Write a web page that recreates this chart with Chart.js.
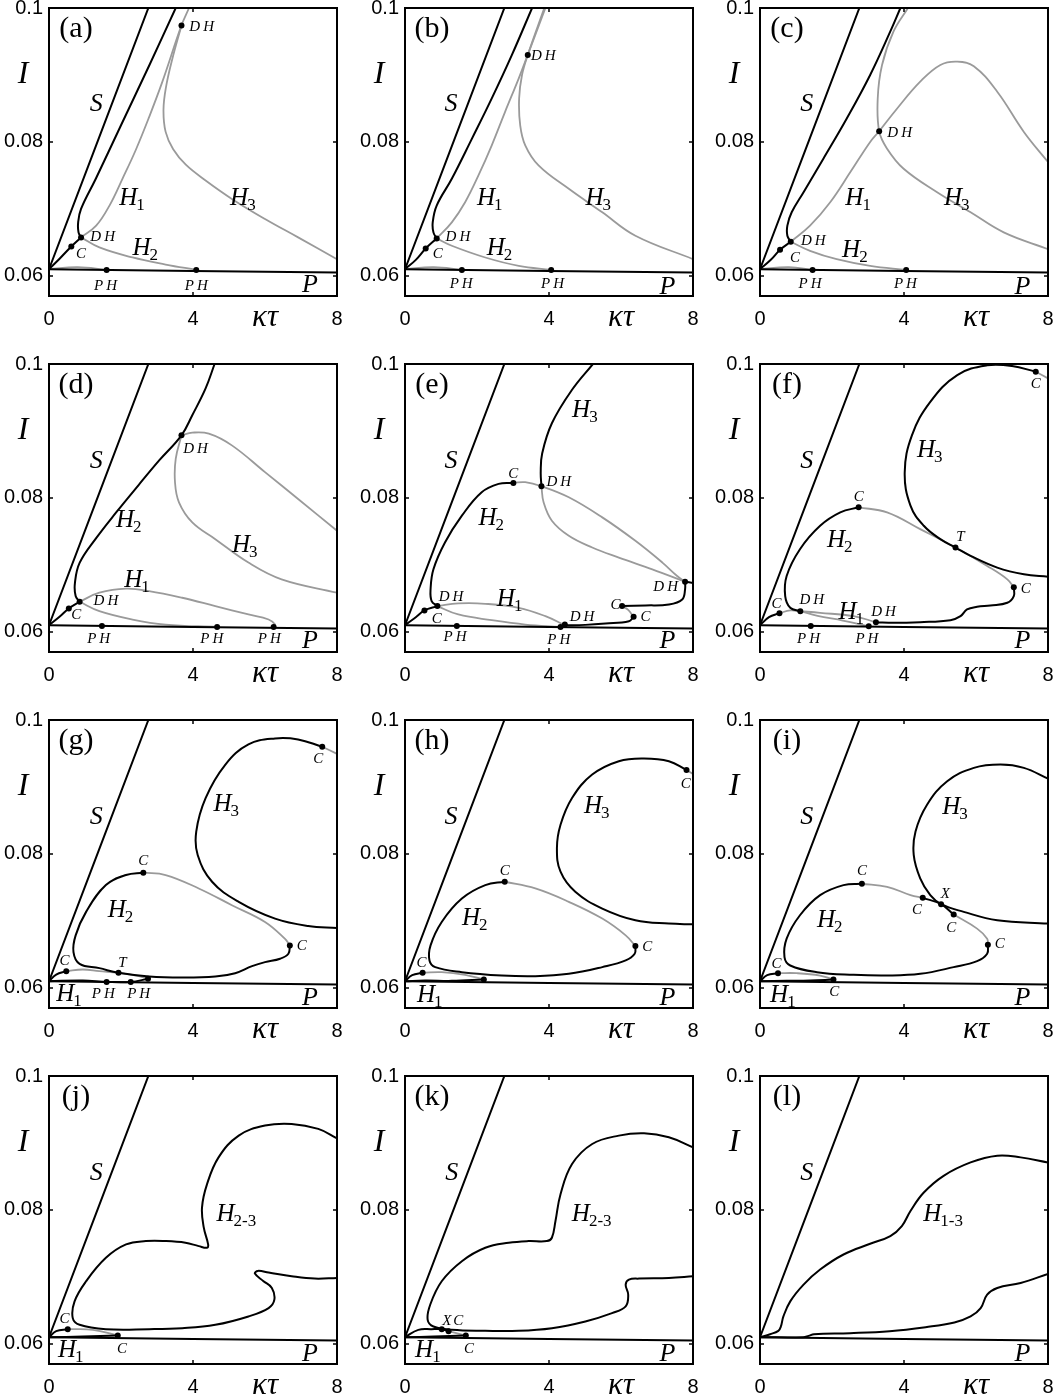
<!DOCTYPE html>
<html><head><meta charset="utf-8">
<script src="https://cdn.jsdelivr.net/npm/chart.js@4/dist/chart.umd.min.js"></script>
<style>
html,body{margin:0;padding:0;background:#fff;overflow:hidden;width:1057px;height:1396px;}
canvas{position:absolute;}
</style></head><body>
<script>
// ---------- axes ----------
const xTicks = [0, 4, 8];
const yTicks = [0.06, 0.08, 0.1];
const yTickLabels = ['0.06', '0.08', '0.1'];
const panelLetters = ['a','b','c','d','e','f','g','h','i','j','k','l'];

// ---------- shared straight branches ----------
const S_line = [[0,0.061],[2.76,0.1]];
const P_line = [[0,0.061],[8,0.0605]];

// ---------- panel (a) ----------
const aBlack1 = [[0,0.061],[0.3,0.0626],[0.62,0.0644],[0.89,0.06575]];
const aBlack2 = [[0.89,0.06575],[0.82,0.0665],[0.81,0.068],[0.89,0.0700],[1.3,0.0745],[2.0,0.0825],[2.8,0.0916],[3.52,0.1]];
const aH1 = [[0.89,0.06575],[1.31,0.0675],[1.68,0.0705],[2.04,0.0745],[2.41,0.0788],[2.78,0.0837],[3.15,0.0890],[3.68,0.0974],[3.89,0.1]];
const aH3 = [[3.68,0.0974],[3.43,0.0925],[3.25,0.0882],[3.18,0.0848],[3.24,0.0815],[3.45,0.0789],[3.8,0.0766],[4.35,0.07425],[5.08,0.0715],[6.0,0.0685],[6.92,0.06575],[8,0.0625]];
const aH2 = [[0.89,0.06575],[1.40,0.06425],[2.32,0.06275],[3.24,0.0617],[4.09,0.0609]];
const aLow = [[0,0.061],[0.8,0.0613],[1.6,0.0609]];
const aDots = [[0.62,0.0644],[0.89,0.06575],[3.68,0.0974],[1.60,0.0609],[4.09,0.0609]];
const aLabels = [['S',1.31,0.0858],['H1',2.32,0.0718],['H2',2.69,0.0643],['H3',5.40,0.0718],['P',7.25,0.0588],['DH',4.24,0.0973],['DH',1.49,0.0659],['C',0.89,0.0634],['PH',1.57,0.0586],['PH',4.09,0.0586]];

// ---------- panel (b) ----------
const bBlack1 = [[0,0.061],[0.3,0.0624],[0.575,0.0641],[0.88,0.0656]];
const bBlack2 = [[0.88,0.0656],[0.79,0.0665],[0.77,0.068],[0.88,0.0705],[1.30,0.0745],[1.86,0.0805],[2.41,0.0865],[2.97,0.093],[3.53,0.1]];
const bH1 = [[0.88,0.0656],[1.30,0.068],[1.67,0.071],[2.04,0.075],[2.41,0.0795],[2.78,0.0845],[3.16,0.0895],[3.41,0.093],[3.90,0.1]];
const bH3 = [[3.87,0.1],[3.41,0.093],[3.25,0.09],[3.17,0.0865],[3.2,0.0825],[3.34,0.0795],[3.71,0.0765],[4.55,0.073],[5.48,0.0695],[6.40,0.066],[8,0.0625]];
const bH2 = [[0.88,0.0656],[1.30,0.0645],[2.23,0.06275],[3.16,0.0615],[4.06,0.0609]];
const bLow = [[0,0.061],[0.8,0.0613],[1.58,0.0609]];
const bDots = [[0.575,0.0641],[0.88,0.0656],[3.41,0.093],[1.58,0.0609],[4.06,0.0609]];
const bLabels = [['S',1.28,0.0858],['H1',2.37,0.0718],['H2',2.64,0.0643],['H3',5.38,0.0718],['P',7.29,0.0585],['DH',3.84,0.093],['DH',1.47,0.0659],['C',0.91,0.0634],['PH',1.56,0.0589],['PH',4.10,0.0589]];

// ---------- panel (c) ----------
const cBlack1 = [[0,0.061],[0.3,0.0624],[0.557,0.0639],[0.854,0.0651]];
const cBlack2 = [[0.854,0.0651],[0.76,0.066],[0.76,0.0675],[0.88,0.0695],[1.21,0.0725],[1.76,0.0775],[2.41,0.0835],[3.06,0.09],[3.62,0.0965],[3.90,0.1]];
const cH1 = [[0.854,0.0651],[1.39,0.0675],[1.95,0.071],[2.51,0.0755],[3.06,0.08],[3.31,0.0816],[3.81,0.085],[4.45,0.089],[5.01,0.0915],[5.48,0.092],[5.94,0.0913],[6.59,0.0875],[7.33,0.0815],[8,0.077]];
const cH3 = [[4.11,0.1],[3.71,0.0965],[3.39,0.0915],[3.27,0.0865],[3.31,0.0816],[3.53,0.079],[3.99,0.076],[4.92,0.0725],[5.85,0.0695],[6.77,0.0665],[8,0.064]];
const cH2 = [[0.854,0.0651],[1.39,0.06375],[2.13,0.0625],[3.06,0.0615],[4.06,0.0609]];
const cLow = [[0,0.061],[0.8,0.0613],[1.46,0.0609]];
const cDots = [[0.557,0.0639],[0.854,0.0651],[3.31,0.0816],[1.46,0.0609],[4.06,0.0609]];
const cLabels = [['S',1.30,0.0858],['H1',2.74,0.0718],['H2',2.65,0.064],['H3',5.48,0.0718],['P',7.29,0.0585],['DH',3.88,0.0815],['DH',1.48,0.0654],['C',0.97,0.06275],['PH',1.39,0.0589],['PH',4.04,0.0589]];

// ---------- panel (d) ----------
const dBlack1 = [[0,0.061],[0.3,0.0623],[0.55,0.0635],[0.85,0.0645]];
const dBlack2 = [[0.85,0.0645],[0.74,0.06535],[0.72,0.0673],[0.85,0.0703],[1.31,0.0740],[1.86,0.0778],[2.50,0.0820],[3.06,0.0856],[3.68,0.08935],[3.98,0.09235],[4.35,0.09635],[4.60,0.1]];
const dH1 = [[0.85,0.0645],[1.40,0.06585],[2.14,0.06645],[2.78,0.0661],[3.70,0.0651],[4.62,0.06385],[5.54,0.0626],[6.10,0.06185],[6.28,0.0611],[6.24,0.06075]];
const dH2 = [[0.85,0.0645],[1.40,0.0631],[2.32,0.06185],[3.24,0.0611],[4.67,0.06075]];
const dH3 = [[3.68,0.08935],[3.52,0.08585],[3.5,0.08235],[3.61,0.07935],[3.98,0.07635],[4.62,0.07385],[5.54,0.07035],[6.46,0.06785],[8,0.06585]];
const dH3b = [[3.68,0.08935],[3.98,0.08975],[4.44,0.0896],[5.08,0.08785],[6.0,0.08385],[6.92,0.07985],[8,0.0751]];
const dDots = [[0.55,0.0635],[0.85,0.0645],[3.68,0.08935],[1.47,0.0609],[4.67,0.06075],[6.24,0.06075]];
const dLabels = [['S',1.31,0.0856],['H2',2.23,0.07685],['H1',2.46,0.06785],['H3',5.45,0.0731],['P',7.25,0.05885],['DH',4.07,0.08745],['DH',1.58,0.06475],['C',0.76,0.0626],['PH',1.38,0.0591],['PH',4.52,0.0591],['PH',6.12,0.0591]];

// ---------- panel (e) ----------
const eBlack1 = [[0,0.061],[0.3,0.0622],[0.54,0.0632],[0.90,0.06385]];
const eBlack2 = [[0.90,0.06385],[0.74,0.0646],[0.71,0.06635],[0.79,0.06935],[1.11,0.07335],[1.58,0.07735],[2.13,0.08085],[2.60,0.0821],[3.01,0.08225]];
const eH2gray = [[3.01,0.08225],[3.34,0.08235],[3.79,0.08175],[4.55,0.0801],[5.48,0.0771],[6.40,0.0736],[7.15,0.07035],[7.56,0.06835],[7.78,0.0675]];
const eH3black = [[5.22,0.1],[4.64,0.09615],[4.08,0.09115],[3.81,0.08665],[3.77,0.08385],[3.79,0.08175]];
const eH3gray = [[3.79,0.08175],[3.85,0.07935],[4.08,0.0766],[4.55,0.07435],[5.20,0.0726],[5.94,0.0711],[6.87,0.06935],[7.78,0.0675]];
const eBlackR = [[7.78,0.0675],[8,0.0673]];
const eBlackLoop = [[7.78,0.0675],[7.78,0.06635],[7.70,0.06485],[7.33,0.0641],[6.68,0.06395],[6.03,0.06385]];
const eGrayCC = [[6.03,0.06385],[6.2,0.0633],[6.35,0.06225]];
const eBlackLow = [[6.35,0.06225],[6.22,0.0616],[5.57,0.06125],[5.01,0.06105],[4.44,0.061]];
const eH1a = [[0.90,0.06385],[1.48,0.06425],[2.23,0.0642],[3.16,0.0636],[3.90,0.06235],[4.44,0.061]];
const eH1b = [[0.90,0.06385],[1.48,0.0626],[2.41,0.06175],[3.34,0.0611],[4.32,0.06075]];
const eDots = [[0.54,0.0632],[0.90,0.06385],[3.01,0.08225],[3.79,0.08175],[7.78,0.0675],[6.03,0.06385],[6.35,0.06225],[4.44,0.0611],[4.32,0.06075],[1.44,0.0609]];
const eLabels = [['S',1.28,0.0856],['H2',2.41,0.0771],['H1',2.92,0.0651],['H3',5.01,0.09335],['P',7.29,0.05885],['C',3.01,0.0838],['DH',4.27,0.0826],['DH',7.24,0.06685],['DH',1.28,0.06535],['C',0.88,0.0621],['DH',4.92,0.06235],['C',5.85,0.0641],['C',6.68,0.06235],['PH',1.39,0.05935],['PH',4.27,0.05895]];

// ---------- panel (f) ----------
const fBlack1 = [[0,0.061],[0.25,0.0622],[0.54,0.0628]];
const fGrayCD = [[0.54,0.0628],[0.84,0.0632],[1.12,0.0631]];
const fBlackH2 = [[1.12,0.0631],[0.84,0.0636],[0.70,0.06535],[0.74,0.06835],[1.11,0.07235],[1.67,0.07585],[2.23,0.07785],[2.74,0.0786]];
const fGrayH2 = [[2.74,0.0786],[3.53,0.07785],[4.45,0.07535],[5.43,0.0726],[6.31,0.06985],[6.87,0.06785],[7.05,0.06665]];
const fBlackLow = [[7.05,0.06665],[7.05,0.06535],[6.87,0.06435],[6.40,0.06395],[6.03,0.06375],[5.75,0.06335],[5.57,0.06235],[5.29,0.06175],[4.45,0.06145],[3.71,0.06135],[3.22,0.06145]];
const fH3black = [[7.66,0.09885],[7.0,0.0997],[6.31,0.0998],[5.48,0.09835],[4.73,0.09435],[4.22,0.08935],[4.02,0.08385],[4.18,0.07885],[4.55,0.07585],[5.01,0.07385],[5.43,0.0726],[5.85,0.07135],[6.59,0.0696],[7.33,0.0686],[8,0.06825]];
const fH3gray = [[7.66,0.09885],[8,0.09785]];
const fH1a = [[1.12,0.0631],[1.67,0.06285],[2.60,0.06235],[3.22,0.06145]];
const fH1b = [[1.12,0.0631],[1.6,0.0624],[2.3,0.0617],[3.02,0.06085]];
const fDots = [[0.54,0.0628],[1.12,0.0631],[2.74,0.0786],[5.43,0.0726],[7.05,0.06665],[7.66,0.09885],[3.22,0.06145],[1.41,0.0609],[3.02,0.06085]];
const fLabels = [['S',1.30,0.0856],['H3',4.73,0.08735],['H2',2.23,0.07385],['H1',2.55,0.0631],['P',7.29,0.05885],['C',7.66,0.0971],['C',2.74,0.08035],['T',5.57,0.07425],['C',7.38,0.0666],['C',0.46,0.06425],['DH',1.44,0.06485],['DH',3.43,0.0631],['PH',1.35,0.0591],['PH',2.97,0.0591]];

// ---------- panel (g) ----------
const gBlack1 = [[0,0.061],[0.2,0.062],[0.48,0.0625]];
const gH2black = [[2.62,0.0772],[2.14,0.07685],[1.58,0.07535],[1.03,0.07135],[0.74,0.06785],[0.68,0.06535],[0.85,0.0636],[1.40,0.06295],[1.93,0.06225],[2.78,0.0617],[3.70,0.06155],[4.62,0.0617],[5.17,0.0622],[5.64,0.06325],[6.0,0.06385],[6.42,0.06435],[6.65,0.0651],[6.69,0.06635]];
const gH2gray = [[2.62,0.0772],[3.24,0.07685],[4.16,0.07485],[5.08,0.07235],[6.0,0.06985],[6.55,0.06735],[6.69,0.06635]];
const gH1gray = [[0.48,0.0625],[0.94,0.06275],[1.40,0.0625],[1.93,0.06225],[2.50,0.06175],[2.75,0.06135]];
const gBlackLow = [[0,0.061],[0.94,0.0611],[1.60,0.0609],[2.27,0.0609],[2.75,0.06135]];
const gH3black = [[7.59,0.096],[6.92,0.0971],[6.28,0.09725],[5.54,0.09635],[4.90,0.09335],[4.35,0.08835],[4.09,0.08335],[4.13,0.07985],[4.53,0.07585],[5.27,0.07285],[6.28,0.07035],[7.20,0.06925],[8,0.06895]];
const gH3gray = [[7.59,0.096],[8,0.09495]];
const gDots = [[0.48,0.0625],[1.93,0.06225],[2.62,0.0772],[6.69,0.06635],[7.59,0.096],[1.60,0.0609],[2.27,0.0609],[2.75,0.06135]];
const gLabels = [['S',1.31,0.0856],['H3',4.94,0.0876],['H2',2.0,0.07185],['H1',0.57,0.05925],['P',7.25,0.0586],['C',7.48,0.09435],['C',2.62,0.0791],['C',7.02,0.06635],['C',0.43,0.0641],['T',2.04,0.06385],['PH',1.51,0.05925],['PH',2.49,0.05925]];

// ---------- panel (h) ----------
const hBlack1 = [[0,0.061],[0.2,0.0619],[0.49,0.06225]];
const hH1gray = [[0.49,0.06225],[1.02,0.06235],[1.67,0.06195],[2.19,0.06125]];
const hBlackLow = [[0,0.061],[0.56,0.0611],[1.30,0.06105],[2.19,0.06125]];
const hH2black = [[2.77,0.07585],[2.23,0.07535],[1.58,0.07335],[1.02,0.06985],[0.71,0.06635],[0.68,0.0641],[0.84,0.0631],[1.58,0.06235],[2.69,0.06185],[3.62,0.06175],[4.55,0.0621],[5.48,0.0631],[6.13,0.0641],[6.38,0.0651],[6.40,0.06625]];
const hH2gray = [[2.77,0.07585],[3.62,0.07485],[4.55,0.07285],[5.48,0.07035],[6.13,0.06785],[6.40,0.06625]];
const hH3black = [[7.82,0.09255],[7.33,0.09385],[6.64,0.09425],[5.94,0.09385],[5.20,0.09185],[4.64,0.08835],[4.32,0.08435],[4.22,0.08085],[4.32,0.07735],[4.73,0.07435],[5.48,0.07185],[6.40,0.0701],[7.33,0.0696],[8,0.0695]];
const hH3gray = [[7.82,0.09255],[8,0.09195]];
const hDots = [[0.49,0.06225],[2.19,0.06125],[2.77,0.07585],[6.40,0.06625],[7.82,0.09255]];
const hLabels = [['S',1.28,0.0856],['H3',5.34,0.08735],['H2',1.95,0.0706],['H1',0.70,0.0591],['P',7.29,0.0586],['C',7.80,0.0906],['C',2.77,0.0776],['C',6.73,0.06625],['C',0.46,0.06385]];

// ---------- panel (i) ----------
const iBlack1 = [[0,0.061],[0.2,0.0619],[0.50,0.0622]];
const iH1gray = [[0.50,0.0622],[1.02,0.0622],[1.67,0.06185],[2.04,0.06125]];
const iBlackLow = [[0,0.061],[0.74,0.06105],[1.4,0.0611],[2.04,0.06125]];
const iH2black = [[2.83,0.07555],[2.32,0.07535],[1.67,0.07385],[1.11,0.07085],[0.74,0.06735],[0.68,0.0646],[0.84,0.06335],[1.58,0.06235],[2.60,0.06195],[3.53,0.06185],[4.45,0.0621],[5.38,0.0631],[6.03,0.064],[6.31,0.0651],[6.33,0.06645]];
const iH2gray1 = [[2.83,0.07555],[3.53,0.0751],[4.18,0.07385],[4.52,0.07345]];
const iH2black2 = [[4.52,0.07345],[5.03,0.0725],[5.38,0.07095]];
const iH2gray2 = [[5.38,0.07095],[6.03,0.06885],[6.31,0.06735],[6.33,0.06645]];
const iH3black = [[8,0.09125],[7.33,0.09285],[6.68,0.09335],[5.94,0.09285],[5.20,0.09085],[4.64,0.08735],[4.32,0.08335],[4.27,0.07985],[4.45,0.07635],[4.73,0.07385],[5.03,0.0725],[5.66,0.07135],[6.59,0.0701],[8,0.0696]];
const iDots = [[0.50,0.0622],[2.04,0.06125],[2.83,0.07555],[4.52,0.07345],[5.03,0.0725],[5.38,0.07095],[6.33,0.06645]];
const iLabels = [['S',1.30,0.0856],['H3',5.43,0.0871],['H2',1.95,0.07035],['H1',0.65,0.0591],['P',7.29,0.0586],['C',2.83,0.0776],['C',4.36,0.07185],['X',5.15,0.0741],['C',5.31,0.0691],['C',6.66,0.06675],['C',0.46,0.06375],['C',2.06,0.0596]];

// ---------- panel (j) ----------
const jBlack1 = [[0,0.061],[0.2,0.0619],[0.52,0.0622]];
const jH1gray = [[0.52,0.0622],[1.22,0.0621],[1.91,0.06125]];
const jBlackLow = [[0,0.061],[0.94,0.0611],[1.91,0.06125]];
const jH23 = [[8,0.0907],[7.48,0.0921],[6.74,0.09285],[6.0,0.0926],[5.27,0.0911],[4.71,0.08785],[4.39,0.08385],[4.25,0.08035],[4.30,0.07735],[4.42,0.07485],[4.39,0.07435],[4.16,0.0746],[3.79,0.0751],[3.24,0.07535],[2.69,0.07535],[2.14,0.07485],[1.58,0.07285],[1.03,0.06935],[0.71,0.06635],[0.66,0.06385],[0.85,0.06285],[1.58,0.0622],[2.78,0.0622],[3.70,0.06235],[4.62,0.06285],[5.54,0.0641],[6.10,0.06535],[6.26,0.0666],[6.19,0.06835],[5.95,0.0694],[5.72,0.0705],[5.80,0.0709],[6.1,0.07065],[6.74,0.0701],[7.38,0.06975],[8,0.06985]];
const jDots = [[0.52,0.0622],[1.91,0.06125]];
const jLabels = [['S',1.31,0.0856],['H2-3',5.22,0.0796],['H1',0.62,0.05925],['P',7.25,0.0586],['C',0.43,0.06385],['C',2.03,0.05945]];

// ---------- panel (k) ----------
const kBlack1 = [[0,0.061],[0.37,0.0621],[0.74,0.0622],[1.02,0.0622],[1.21,0.0619]];
const kH1gray = [[1.21,0.0619],[1.69,0.06125]];
const kBlackLow = [[0,0.061],[0.8,0.0611],[1.69,0.06125]];
const kH23 = [[8,0.08935],[7.33,0.09085],[6.64,0.09145],[5.94,0.0911],[5.20,0.08985],[4.64,0.08685],[4.32,0.08235],[4.18,0.07835],[4.08,0.07585],[3.94,0.07535],[3.43,0.07535],[2.88,0.0751],[2.23,0.07435],[1.58,0.07235],[1.02,0.06935],[0.70,0.06585],[0.63,0.0636],[0.79,0.0626],[1.30,0.0621],[2.23,0.06195],[3.16,0.06195],[4.08,0.06235],[5.01,0.06335],[5.75,0.0646],[6.13,0.0656],[6.20,0.06735],[6.13,0.06885],[6.22,0.0696],[6.50,0.06975],[7.33,0.06985],[8,0.0701]];
const kDots = [[1.02,0.0622],[1.21,0.0619],[1.69,0.06125]];
const kLabels = [['S',1.30,0.0856],['H2-3',5.2,0.0796],['H1',0.65,0.05925],['P',7.29,0.0586],['X',1.16,0.0636],['C',1.48,0.0636],['C',1.78,0.05945]];

// ---------- panel (l) ----------
const lUpper = [[0,0.061],[0.28,0.06145],[0.51,0.06195],[0.58,0.0626],[0.65,0.0641],[0.84,0.06635],[1.21,0.06885],[1.67,0.0711],[2.32,0.07335],[3.06,0.07495],[3.62,0.0761],[3.94,0.0776],[4.18,0.07985],[4.55,0.0826],[5.10,0.0851],[5.85,0.0871],[6.59,0.0881],[7.24,0.08785],[8,0.0871]];
const lLower = [[0,0.061],[1.2,0.061],[1.35,0.0612],[1.5,0.06145],[2.5,0.0616],[3.6,0.0619],[4.6,0.0625],[5.4,0.0632],[5.85,0.0641],[6.13,0.06535],[6.31,0.06735],[6.59,0.06835],[7.24,0.0691],[8,0.07045]];
const lDots = [];
const lLabels = [['S',1.30,0.0856],['H1-3',5.10,0.0796],['P',7.29,0.0586]];

// ---------- drawing ----------
const BLACK = '#000000', GRAY = '#9a9a9a';
const COL_LEFT = [0, 356, 711], ROW_TOP = [0, 356, 712, 1068];
const CW = 346, CH = 356;
const SMALL = new Set(['DH','PH','C','T','X']);

function drawLabel(ctx, txt, px, py) {
  ctx.fillStyle = '#000';
  ctx.textBaseline = 'alphabetic';
  if (SMALL.has(txt)) {
    ctx.font = 'italic 15px "Liberation Serif"';
    ctx.letterSpacing = txt.length > 1 ? '3px' : '0px';
    const w = ctx.measureText(txt).width - (txt.length > 1 ? 3 : 0);
    ctx.textAlign = 'left';
    ctx.fillText(txt, px - w / 2, py + 5);
    ctx.letterSpacing = '0px';
  } else if (txt[0] === 'H') {
    const sub = txt.slice(1);
    ctx.font = 'italic 25px "Liberation Serif"';
    const w1 = ctx.measureText('H').width;
    ctx.font = '17px "Liberation Serif"';
    const w2 = ctx.measureText(sub).width;
    const x0 = px - (w1 + w2) / 2;
    ctx.textAlign = 'left';
    ctx.font = 'italic 25px "Liberation Serif"';
    ctx.fillText('H', x0, py + 8);
    ctx.font = '17px "Liberation Serif"';
    ctx.fillText(sub, x0 + w1 - 1, py + 13);
  } else {
    ctx.font = 'italic 26px "Liberation Serif"';
    ctx.textAlign = 'center';
    ctx.fillText(txt, px, py + 8);
  }
}

function overlay(letter, labels) {
  return {
    id: 'overlay_' + letter,
    afterDatasetsDraw(chart) {
      const ctx = chart.ctx, a = chart.chartArea, xs = chart.scales.x, ys = chart.scales.y;
      ctx.save();
      labels.forEach(l => drawLabel(ctx, l[0], xs.getPixelForValue(l[1]), ys.getPixelForValue(l[2])));
      ctx.strokeStyle = '#000';
      ctx.lineWidth = 2;
      ctx.strokeRect(a.left, a.top, a.right - a.left, a.bottom - a.top);
      ctx.lineWidth = 1.5;
      ctx.beginPath();
      xTicks.forEach(v => {
        const px = xs.getPixelForValue(v);
        ctx.moveTo(px, a.top); ctx.lineTo(px, a.top + 4);
        ctx.moveTo(px, a.bottom); ctx.lineTo(px, a.bottom - 4);
      });
      yTicks.forEach(v => {
        const py = ys.getPixelForValue(v);
        ctx.moveTo(a.left, py); ctx.lineTo(a.left + 4, py);
        ctx.moveTo(a.right, py); ctx.lineTo(a.right - 4, py);
      });
      ctx.stroke();
      ctx.fillStyle = '#000';
      ctx.textAlign = 'center';
      ctx.textBaseline = 'middle';
      ctx.font = '30px "Liberation Serif"';
      ctx.fillText('(' + letter + ')', a.left + 27, a.top + 21);
      ctx.font = 'italic 32px "Liberation Serif"';
      ctx.fillText('I', a.left - 26, a.top + 67);
      ctx.font = 'italic 31px "Liberation Serif"';
      ctx.fillText('κτ', a.left + 216, a.bottom + 22);
      ctx.restore();
    }
  };
}

function panel(idx, blackLines, grayLines, dots, labels) {
  const c = document.createElement('canvas');
  c.width = CW; c.height = CH;
  c.style.width = CW + 'px'; c.style.height = CH + 'px';
  c.style.left = COL_LEFT[idx % 3] + 'px';
  c.style.top = ROW_TOP[Math.floor(idx / 3)] + 'px';
  document.body.appendChild(c);
  const datasets = [];
  datasets.push({ data: dots, showLine: false, pointRadius: 3, pointBackgroundColor: '#000', pointBorderWidth: 0, order: 0 });
  blackLines.forEach(pts => datasets.push({ data: pts, showLine: true, borderColor: BLACK, borderWidth: 2, pointRadius: 0, tension: 0.4, fill: false, order: 1 }));
  grayLines.forEach(pts => datasets.push({ data: pts, showLine: true, borderColor: GRAY, borderWidth: 1.8, pointRadius: 0, tension: 0.4, fill: false, order: 2 }));
  const tickFont = { family: 'Liberation Sans', size: 20 };
  new Chart(c, {
    type: 'scatter',
    data: { datasets },
    options: {
      animation: false, responsive: false, maintainAspectRatio: false, devicePixelRatio: 1,
      events: [],
      layout: { padding: { top: 8, right: 9, bottom: 20, left: 0 } },
      plugins: { legend: { display: false }, tooltip: { enabled: false } },
      scales: {
        x: {
          type: 'linear', min: 0, max: 8,
          afterBuildTicks: s => { s.ticks = xTicks.map(v => ({ value: v })); },
          afterFit: s => { s.height = 40; s.paddingLeft = 0; s.paddingRight = 0; s.paddingTop = 0; s.paddingBottom = 0; },
          ticks: { font: tickFont, color: '#000', padding: 11, maxRotation: 0, autoSkip: false, callback: v => String(v) },
          grid: { display: false, drawTicks: false }, border: { display: false }
        },
        y: {
          type: 'linear', min: 0.057, max: 0.1,
          afterBuildTicks: s => { s.ticks = yTicks.map(v => ({ value: v })); },
          afterFit: s => { s.width = 49; s.paddingLeft = 0; s.paddingRight = 0; s.paddingTop = 0; s.paddingBottom = 0; },
          ticks: { font: tickFont, color: '#000', padding: 6, autoSkip: false, callback: (v, i) => yTickLabels[i] },
          grid: { display: false, drawTicks: false }, border: { display: false }
        }
      }
    },
    plugins: [overlay(panelLetters[idx], labels)]
  });
}

panel(0, [S_line, P_line, aBlack1, aBlack2], [aLow, aH2, aH1, aH3], aDots, aLabels);
panel(1, [S_line, P_line, bBlack1, bBlack2], [bLow, bH2, bH1, bH3], bDots, bLabels);
panel(2, [S_line, P_line, cBlack1, cBlack2], [cLow, cH2, cH1, cH3], cDots, cLabels);
panel(3, [S_line, P_line, dBlack1, dBlack2], [dH1, dH2, dH3, dH3b], dDots, dLabels);
panel(4, [S_line, P_line, eBlack1, eBlack2, eH3black, eBlackR, eBlackLoop, eBlackLow], [eH2gray, eH3gray, eGrayCC, eH1a, eH1b], eDots, eLabels);
panel(5, [S_line, P_line, fBlack1, fBlackH2, fBlackLow, fH3black], [fGrayCD, fGrayH2, fH3gray, fH1a, fH1b], fDots, fLabels);
panel(6, [S_line, P_line, gBlack1, gH2black, gBlackLow, gH3black], [gH2gray, gH1gray, gH3gray], gDots, gLabels);
panel(7, [S_line, P_line, hBlack1, hBlackLow, hH2black, hH3black], [hH1gray, hH2gray, hH3gray], hDots, hLabels);
panel(8, [S_line, P_line, iBlack1, iBlackLow, iH2black, iH2black2, iH3black], [iH1gray, iH2gray1, iH2gray2], iDots, iLabels);
panel(9, [S_line, P_line, jBlack1, jBlackLow, jH23], [jH1gray], jDots, jLabels);
panel(10, [S_line, P_line, kBlack1, kBlackLow, kH23], [kH1gray], kDots, kLabels);
panel(11, [S_line, P_line, lUpper, lLower], [], lDots, lLabels);
</script>
</body></html>
